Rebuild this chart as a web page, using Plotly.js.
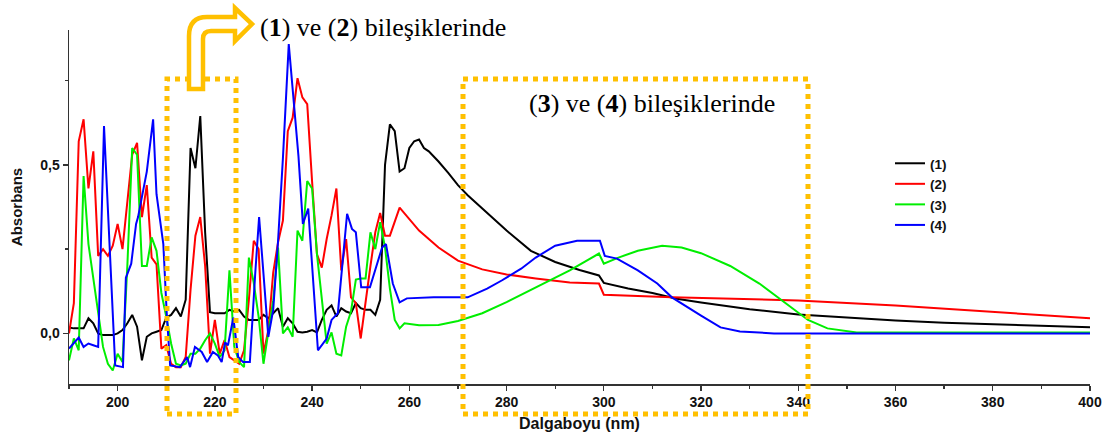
<!DOCTYPE html>
<html>
<head>
<meta charset="utf-8">
<script src="https://cdn.plot.ly/plotly-3.0.1.min.js"></script>
<style>html,body{margin:0;padding:0;background:#fff;}#chart{width:1110px;height:440px;}</style>
</head>
<body>
<div id="chart"></div>
<script>
// ---- data ----
const x1 = [190,191,192,193,194,195,196,197,198,199,200,201,202,203,204,205,206,207,208,209,210,211,212,213,214,215,216,217,218,219,220,221,222,223,224,225,226,227,228,229,230,231,232,233,234,235,236,237,238,239,240,241,242,243,244,245,246,247,248,249,250,251,252,253,254,255,256,257,258,259,260,261,262,263,264,266,268,270,272,275,280,285,290,295,299,300,305,310,315,320,330,340,350,360,370,380,390,400];
const y1 = [0.018,0.015,0.015,0.015,0.045,0.03,0.0,-0.005,-0.005,-0.005,0.0,0.01,0.03,0.055,0.02,-0.08,-0.01,0.0,0.005,0.01,0.047,0.055,0.075,0.05,0.1,0.55,0.49,0.645,0.3,0.063,0.06,0.06,0.06,0.07,0.065,0.07,0.05,0.04,0.04,0.04,0.055,0.045,0.06,0.075,0.02,0.045,0.03,0.005,0.003,0.005,0.01,0.003,0.04,0.07,0.083,0.05,0.075,0.065,0.06,0.09,0.075,0.07,0.07,0.055,0.1,0.5,0.62,0.6,0.48,0.49,0.55,0.57,0.575,0.55,0.54,0.51,0.476,0.44,0.41,0.37,0.305,0.245,0.212,0.188,0.172,0.15,0.133,0.12,0.103,0.092,0.072,0.056,0.046,0.038,0.032,0.027,0.022,0.018];

const x2 = [190,191,192,193,194,195,196,197,198,199,200,201,202,203,204,205,206,207,208,209,210,211,212,213,214,215,216,217,218,219,220,221,222,223,224,225,226,227,228,229,230,231,232,233,234,235,236,237,238,239,240,241,242,243,244,245,246,247,248,249,250,251,252,253,254,255,256,258,262,266,270,275,280,286,293,299,300,314,340,360,380,400];
const y2 = [0.0,0.09,0.57,0.635,0.43,0.54,0.23,0.25,0.23,0.26,0.325,0.25,0.39,0.53,0.565,0.345,0.44,0.225,0.205,-0.045,-0.035,-0.09,-0.1,-0.1,-0.07,0.13,0.29,0.345,0.2,-0.06,0.04,-0.06,-0.02,-0.07,-0.08,-0.09,-0.05,0.1,0.275,0.25,-0.06,0.01,0.18,0.27,0.335,0.6,0.64,0.757,0.7,0.68,0.45,0.235,0.195,0.28,0.35,0.43,0.187,0.28,0.107,0.09,-0.015,0.1,0.2,0.3,0.357,0.29,0.29,0.373,0.305,0.255,0.216,0.19,0.175,0.163,0.151,0.148,0.115,0.107,0.098,0.083,0.065,0.045];

const x3 = [190,191,192,193,194,195,196,197,198,199,200,201,202,203,204,205,206,207,208,209,210,211,212,213,214,215,216,217,218,219,220,221,222,223,224,225,226,227,228,229,230,231,232,233,234,235,236,237,238,239,240,241,242,243,244,245,246,247,248,249,250,251,252,253,254,255,256,257,258,259,262,266,270,275,280,286,293,299,300,303,307,312,316,320,326,332,338,342,346,352,400];
const y3 = [-0.08,-0.015,-0.05,0.467,0.265,0.165,0.06,-0.04,-0.09,-0.11,-0.06,-0.085,0.2,0.55,0.53,0.2,0.2,0.285,0.245,0.12,0.05,-0.03,-0.09,-0.095,-0.09,-0.06,-0.06,-0.045,-0.02,0.0,-0.03,-0.07,-0.05,0.187,-0.04,-0.085,-0.1,0.225,0.15,0.05,-0.09,0.01,0.098,0.255,0.0,0.018,-0.01,0.305,0.275,0.452,0.43,0.235,0.098,-0.03,0.003,-0.06,-0.065,0.02,0.065,0.16,0.163,0.163,0.3,0.25,0.33,0.255,0.133,0.04,0.015,0.03,0.024,0.025,0.037,0.06,0.093,0.137,0.187,0.237,0.207,0.225,0.245,0.26,0.255,0.238,0.2,0.148,0.083,0.04,0.015,0.003,0.003];

const x4 = [190,191,192,193,194,195,196,197.2,199.5,201.1,201.7,202.8,203.8,204.2,206,207.3,208,209.4,210.1,210.8,212.8,214.3,214.9,215.9,217.3,218.4,219.6,220.6,221.4,222.1,222.7,223.8,224.8,225.8,227.2,228.3,229.1,231,232,233,234,235.2,237.2,238.1,239.2,241.2,243,244,245.3,247.2,248.2,249,250.1,251.9,253.3,254.4,255.2,256.6,258,259.5,265,272,276,279,283,286,290,294.5,299.2,300.2,302.7,307,311,314,320,324,328,335,400];
const y4 = [-0.045,-0.027,-0.012,-0.04,-0.03,-0.035,-0.04,0.615,-0.095,-0.1,0.165,0.207,0.325,0.345,0.48,0.635,0.413,0.265,0.06,-0.095,-0.1,-0.07,-0.1,-0.04,-0.055,-0.085,-0.055,-0.065,-0.085,-0.027,-0.035,0.047,-0.07,-0.085,-0.085,0.177,0.345,-0.01,0.07,0.275,0.52,0.858,0.525,0.325,0.37,-0.05,-0.015,0.04,0.06,0.355,0.31,0.3,0.137,0.137,0.207,0.255,0.265,0.148,0.092,0.104,0.107,0.107,0.133,0.157,0.192,0.225,0.26,0.275,0.275,0.23,0.222,0.187,0.148,0.107,0.053,0.018,0.006,0.0,0.0];

const seriesNames = ['(1)','(2)','(3)','(4)'];
const seriesColors = ['#000000','#ff0000','#00ee00','#0000ff'];
const xTitle = 'Dalgaboyu (nm)';
const yTitle = 'Absorbans';
const note12 = '(<b>1</b>) ve (<b>2</b>) bileşiklerinde';
const note34 = '(<b>3</b>) ve (<b>4</b>) bileşiklerinde';

// ---- layout geometry ----
const W = 1110, H = 440, ML = 69, MR = 20, MT = 30, MB = 56;
const PW = W - ML - MR, PH = H - MT - MB;
const px = v => ((v - ML) / PW);
const py = v => ((H - MB - v) / PH);
function pathFromPixels(cmds){
  return cmds.map(c => {
    const t = c[0]; const nums = c.slice(1);
    const out = [];
    for (let i = 0; i < nums.length; i += 2) out.push(px(nums[i]).toFixed(5) + ',' + py(nums[i+1]).toFixed(5));
    return t + out.join(' ');
  }).join(' ') + ' Z';
}
const gold = '#ffc000';

const xs = [x1,x2,x3,x4], ys = [y1,y2,y3,y4];
const traces = xs.map((x,i) => ({
  x: x, y: ys[i], type: 'scatter', mode: 'lines', name: seriesNames[i],
  line: {color: seriesColors[i], width: 2}
}));

const arrowPath = pathFromPixels([
  ['M',189,89],['L',189,36],['Q',189,17,207,17],['L',235,17],['L',235,8],['L',252,24],
  ['L',235,41],['L',235,31],['L',211,31],['Q',203,31,203,39],['L',203,89]
]);

const layout = {
  width: W, height: H,
  margin: {l: ML, r: MR, t: MT, b: MB, pad: 0},
  paper_bgcolor: '#fff', plot_bgcolor: '#fff',
  separators: ',.',
  font: {family: 'Liberation Sans, Arial, sans-serif', color: '#111'},
  showlegend: true,
  legend: {x: px(890), y: py(148), xanchor: 'left', yanchor: 'top', bgcolor: 'rgba(0,0,0,0)',
    font: {size: 13.5, weight: 'bold', color: '#111'}, itemwidth: 30, tracegroupgap: 0},
  xaxis: {range: [190, 400], tick0: 200, dtick: 20, ticks: 'outside', ticklen: 5, tickwidth: 1.3,
    tickcolor: '#333', showline: true, linecolor: '#333', linewidth: 1.5, showgrid: false, zeroline: false,
    tickfont: {size: 14, weight: 'bold', color: '#111'},
    minor: {dtick: 10, tick0: 190, ticks: 'outside', ticklen: 3, tickwidth: 1.3, tickcolor: '#333', showgrid: false},
    title: {text: xTitle, font: {size: 16, weight: 'bold', color: '#111'}, standoff: 8}},
  yaxis: {range: [-0.15, 0.9], tick0: 0, dtick: 0.5, tickformat: '.1f', ticks: 'outside', ticklen: 5, tickwidth: 1.3,
    tickcolor: '#333', showline: true, linecolor: '#333', linewidth: 1.5, showgrid: false, zeroline: false,
    tickfont: {size: 14, weight: 'bold', color: '#111'},
    minor: {dtick: 0.25, tick0: 0, ticks: 'outside', ticklen: 3, tickwidth: 1.3, tickcolor: '#333', showgrid: false},
    title: {text: yTitle, font: {size: 15, weight: 'bold', color: '#111'}, standoff: 14}},
  shapes: [
    {type: 'rect', xref: 'paper', yref: 'paper', x0: px(167), x1: px(236), y0: py(414), y1: py(79),
      line: {color: gold, width: 5, dash: '5px,5px'}, fillcolor: 'rgba(0,0,0,0)', layer: 'above'},
    {type: 'rect', xref: 'paper', yref: 'paper', x0: px(463), x1: px(808), y0: py(414), y1: py(79),
      line: {color: gold, width: 5, dash: '5px,5px'}, fillcolor: 'rgba(0,0,0,0)', layer: 'above'},
    {type: 'path', xref: 'paper', yref: 'paper', path: arrowPath,
      line: {color: gold, width: 4.5}, fillcolor: '#ffffff', layer: 'above'}
  ],
  annotations: [
    {xref: 'paper', yref: 'paper', x: px(258), y: py(28), xanchor: 'left', yanchor: 'middle', showarrow: false,
      text: note12, font: {family: 'Liberation Serif, Times New Roman, serif', size: 26, color: '#000'}},
    {xref: 'paper', yref: 'paper', x: px(527), y: py(104), xanchor: 'left', yanchor: 'middle', showarrow: false,
      text: note34, font: {family: 'Liberation Serif, Times New Roman, serif', size: 26, color: '#000'}}
  ]
};

Plotly.newPlot('chart', traces, layout, {displayModeBar: false, staticPlot: true});
</script>
</body>
</html>
